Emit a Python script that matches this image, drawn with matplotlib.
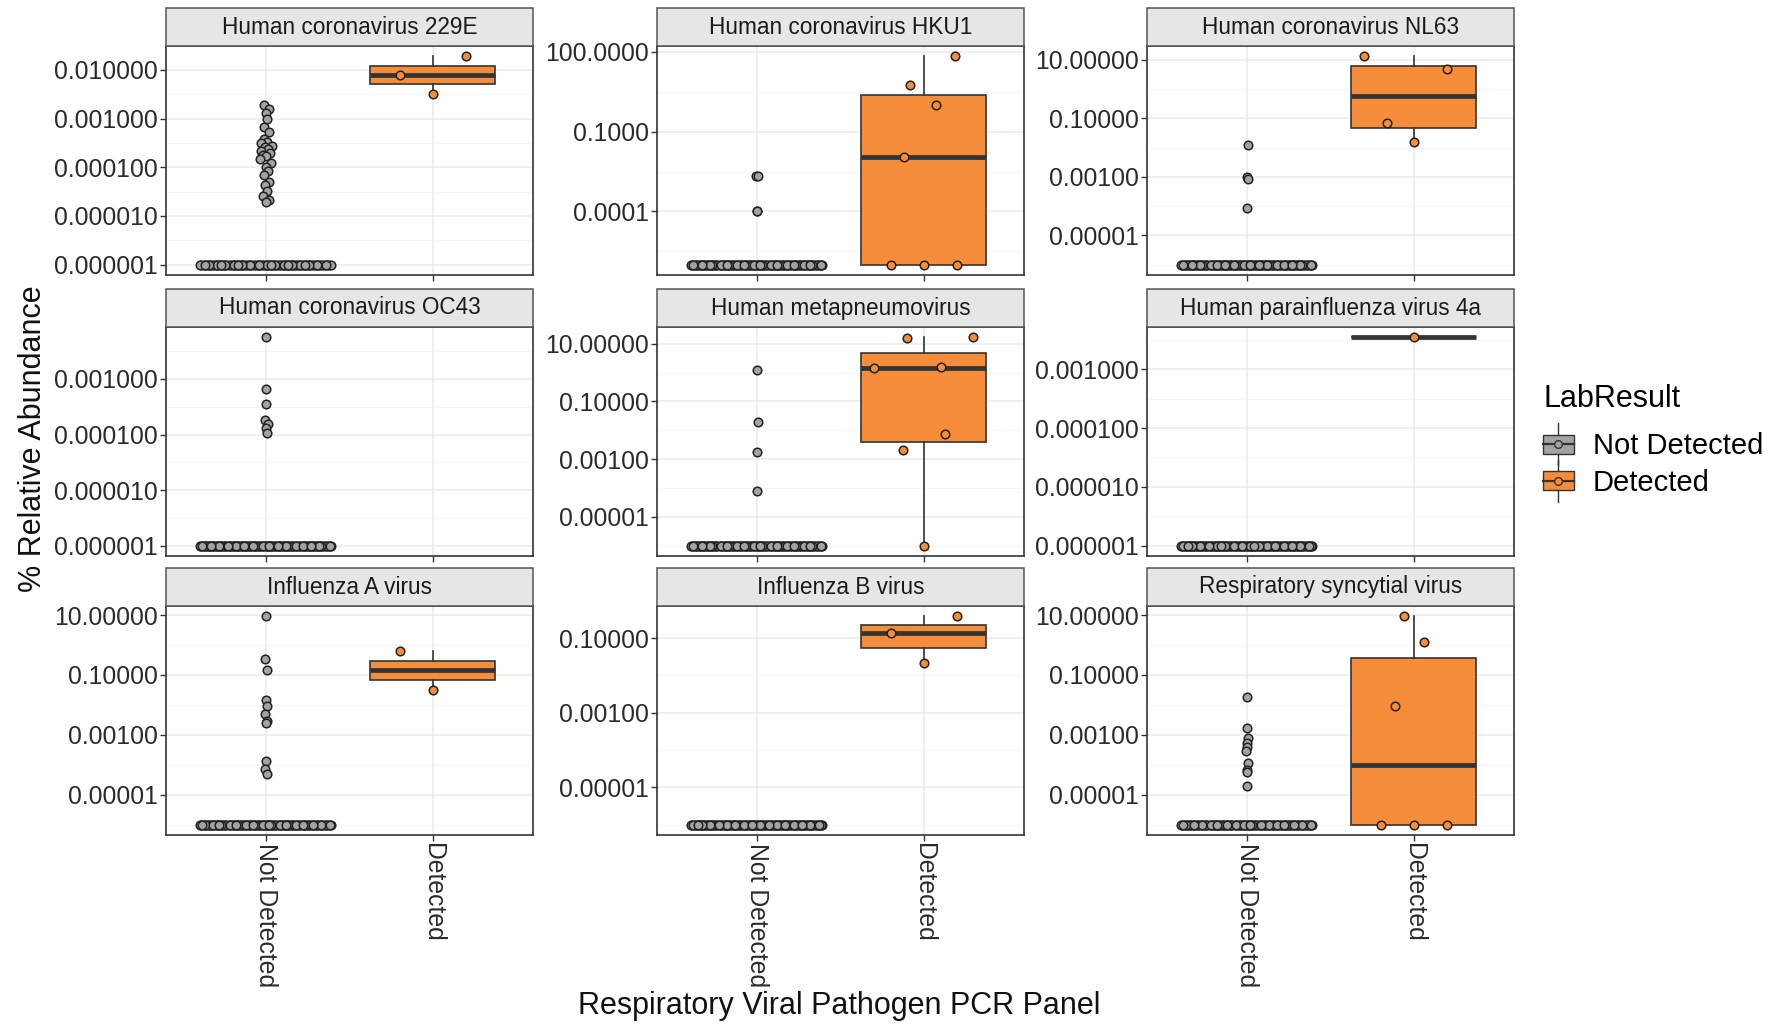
import numpy as np
import matplotlib
matplotlib.use("Agg")
import matplotlib.pyplot as plt
from matplotlib.patches import Rectangle, Patch
from matplotlib.lines import Line2D
from matplotlib.legend_handler import HandlerBase

plt.rcParams['font.family'] = ['Liberation Sans', 'DejaVu Sans']

# ---------------- data ----------------
pathogens = ["Human coronavirus 229E", "Human coronavirus HKU1", "Human coronavirus NL63",
             "Human coronavirus OC43", "Human metapneumovirus", "Human parainfluenza virus 4a",
             "Influenza A virus", "Influenza B virus", "Respiratory syncytial virus"]
groups = ["Not Detected", "Detected"]
floor_value = 1e-6   # value used for zero abundance

# number of Not Detected samples sitting at the floor value, per pathogen
nd_floor_count = [85, 104, 107, 108, 104, 114, 102, 112, 99]

# non-zero % relative abundance of Not Detected samples, per pathogen
nd_229E = [0.0019, 0.0016, 0.0013, 0.0010, 0.00068, 0.00052, 0.00039, 0.00033, 0.00031,
           0.00028, 0.00026, 0.00024, 0.00022, 0.00020, 0.00018, 0.00017, 0.00015, 0.00012,
           0.00010, 0.000085, 0.000068, 0.00005, 0.000043, 0.000033, 0.000026, 0.000021, 0.000019]
nd_HKU1 = [0.0022, 0.0021, 0.000105, 0.0001]
nd_NL63 = [0.012, 0.00095, 0.00085, 0.000085]
nd_OC43 = [0.0056, 0.00065, 0.00035, 0.00018, 0.000155, 0.00013, 0.000105]
nd_MPV = [1.2, 0.019, 0.0018, 0.00008]
nd_PIV4a = []
nd_FluA = [9.0, 0.35, 0.15, 0.015, 0.0093, 0.0049, 0.0029, 0.0024, 0.000135, 0.000072, 0.000049]
nd_FluB = []
nd_RSV = [0.019, 0.0017, 0.00078, 0.00055, 0.00038, 0.00029, 0.000118, 0.000067, 0.000055, 0.00002]

# % relative abundance of Detected samples, per pathogen
det_229E = [0.0032, 0.008, 0.019]
det_HKU1 = [1e-6, 1e-6, 1e-6, 0.011, 1.05, 5.8, 68.0]
det_NL63 = [0.015, 0.071, 4.9, 13.0]
det_OC43 = []
det_MPV = [1e-6, 0.002, 0.0076, 1.45, 1.5, 15.5, 16.5]
det_PIV4a = [0.0035]
det_FluA = [0.032, 0.63]
det_FluB = [0.022, 0.135, 0.38]
det_RSV = [1e-6, 1e-6, 1e-6, 0.0093, 1.3, 9.0]

nd_nonzero = [nd_229E, nd_HKU1, nd_NL63, nd_OC43, nd_MPV, nd_PIV4a, nd_FluA, nd_FluB, nd_RSV]
detected = [det_229E, det_HKU1, det_NL63, det_OC43, det_MPV, det_PIV4a, det_FluA, det_FluB, det_RSV]

# y tick labels per panel (ggplot formatting)
yticks_labels = [
    ["0.000001", "0.000010", "0.000100", "0.001000", "0.010000"],
    ["0.0001", "0.1000", "100.0000"],
    ["0.00001", "0.00100", "0.10000", "10.00000"],
    ["0.000001", "0.000010", "0.000100", "0.001000"],
    ["0.00001", "0.00100", "0.10000", "10.00000"],
    ["0.000001", "0.000010", "0.000100", "0.001000"],
    ["0.00001", "0.00100", "0.10000", "10.00000"],
    ["0.00001", "0.00100", "0.10000"],
    ["0.00001", "0.00100", "0.10000", "10.00000"],
]

colors = {"Not Detected": "#A3A3A3", "Detected": "#F68D3A"}
dark = "#333333"

# ---------------- helpers ----------------
def vdc(n, base=2):
    out = []
    for i in range(1, n + 1):
        v, denom, k = 0.0, 1.0, i
        while k > 0:
            denom *= base
            k, r = divmod(k, base)
            v += r / denom
        out.append(v)
    return np.array(out)


def quasirandom_offsets(ylog, width=0.4):
    ylog = np.asarray(ylog, float)
    n = len(ylog)
    if n < 2:
        return np.zeros(n)
    order = np.argsort(ylog, kind="stable")
    ranks = np.empty(n, int)
    ranks[order] = np.arange(n)
    v = vdc(n)[ranks]
    sd = np.std(ylog, ddof=1)
    q75, q25 = np.percentile(ylog, [75, 25])
    lo = min(sd, (q75 - q25) / 1.34)
    if lo == 0:
        lo = sd or abs(ylog[0]) or 1.0
    bw = 0.9 * lo * n ** -0.2 * 0.5
    d = np.exp(-0.5 * ((ylog[:, None] - ylog[None, :]) / bw) ** 2).sum(1)
    d = d / d.max()
    return (v - 0.5) * 2 * width * d


def box_stats(vals):
    lv = np.log10(np.asarray(vals, float))
    q1, med, q3 = np.percentile(lv, [25, 50, 75])
    iqr = q3 - q1
    lo_w = lv[lv >= q1 - 1.5 * iqr].min()
    hi_w = lv[lv <= q3 + 1.5 * iqr].max()
    return dict(med=10 ** med, q1=10 ** q1, q3=10 ** q3, whislo=10 ** lo_w, whishi=10 ** hi_w)


class BoxKeyHandler(HandlerBase):
    def create_artists(self, legend, orig_handle, xdescent, ydescent, width, height, fontsize, trans):
        fc = orig_handle.get_facecolor()
        x0, y0 = -xdescent, -ydescent
        cx = x0 + width / 2
        wl = Line2D([cx, cx], [y0 - 0.2 * height, y0 + 1.2 * height], color=dark, lw=1.0, transform=trans)
        rect = Rectangle((x0, y0 + 0.18 * height), width, 0.64 * height, facecolor=fc,
                         edgecolor=dark, lw=1.0, transform=trans)
        med = Line2D([x0, x0 + width], [y0 + 0.5 * height] * 2, color=dark, lw=1.6, transform=trans)
        pt = Line2D([cx], [y0 + 0.5 * height], marker="o", ms=5.5, mfc=fc, mec=dark, mew=1.0,
                    ls="none", transform=trans)
        return [wl, rect, med, pt]


# ---------------- figure ----------------
W, H = 1776, 1024
fig = plt.figure(figsize=(W / 100, H / 100), dpi=100)

col_left = [166, 657, 1147]
panel_w = 367
row_top = [46, 327, 606]
panel_h = 229
strip_h = 38

for i, name in enumerate(pathogens):
    r, c = divmod(i, 3)
    ax = fig.add_axes([col_left[c] / W, 1 - (row_top[r] + panel_h) / H, panel_w / W, panel_h / H])
    ax.set_yscale("log")
    nd_vals = [floor_value] * nd_floor_count[i] + list(nd_nonzero[i])
    det_vals = list(detected[i])
    group_vals = [nd_vals, det_vals]

    all_log = np.log10(np.array(nd_vals + det_vals))
    lo, hi = all_log.min(), all_log.max()
    pad = 0.05 * (hi - lo)
    ax.set_ylim(10 ** (lo - pad), 10 ** (hi + pad))
    ax.set_xlim(0.4, 2.6)

    # grid
    ticks = [float(t) for t in yticks_labels[i]]
    tl = np.log10(ticks)
    minors = []
    for k in range(len(tl) - 1):
        minors.append(10 ** ((tl[k] + tl[k + 1]) / 2))
    if len(tl) > 1:
        step = tl[1] - tl[0]
        minors.append(10 ** (tl[0] - step / 2))
        minors.append(10 ** (tl[-1] + step / 2))
    for m in minors:
        ax.axhline(m, color="#F3F3F3", lw=0.6, zorder=0)
    for t in ticks:
        ax.axhline(t, color="#EBEBEB", lw=1.1, zorder=0)
    for xp in (1, 2):
        ax.axvline(xp, color="#EBEBEB", lw=1.1, zorder=0)

    # boxes
    for gi, (g, vals) in enumerate(zip(groups, group_vals)):
        if len(vals) == 0:
            continue
        st = box_stats(vals)
        ax.bxp([st], positions=[gi + 1], widths=0.75, patch_artist=True, showfliers=False,
               showcaps=False, manage_ticks=False,
               boxprops=dict(facecolor=colors[g], edgecolor=dark, lw=1.2),
               medianprops=dict(color=dark, lw=3.4, solid_capstyle="butt"),
               whiskerprops=dict(color=dark, lw=1.2), zorder=2)

    # points (quasirandom)
    for gi, (g, vals) in enumerate(zip(groups, group_vals)):
        if len(vals) == 0:
            continue
        lv = np.log10(np.array(vals))
        xs = gi + 1 + quasirandom_offsets(lv)
        ax.scatter(xs, vals, s=38, facecolor=colors[g], edgecolor="#222222", linewidths=1.1,
                   zorder=3, clip_on=False)

    ax.set_yticks(ticks)
    ax.set_yticklabels(yticks_labels[i])
    ax.yaxis.set_minor_locator(matplotlib.ticker.NullLocator())
    ax.set_xticks([1, 2])
    if r == 2:
        ax.set_xticklabels(groups, rotation=270, ha="center", va="top")
    else:
        ax.set_xticklabels([])
    ax.tick_params(axis="both", length=4, width=1.0, color=dark, labelsize=17.8,
                   labelcolor="#2b2b2b", pad=2)
    for s in ax.spines.values():
        s.set_color(dark)
        s.set_linewidth(1.2)

    # strip
    sh = strip_h / panel_h
    ax.add_patch(Rectangle((0, 1), 1, sh, transform=ax.transAxes, facecolor="#E6E6E6",
                           edgecolor="#555555", lw=1.1, clip_on=False, zorder=5))
    ax.text(0.5, 1 + sh / 2, name, transform=ax.transAxes, ha="center", va="center",
            fontsize=16.3, color="#1A1A1A", zorder=6)

fig.text(33 / W, 1 - 439 / H, "% Relative Abundance", rotation=90, ha="center", va="center",
         fontsize=22, color="#111111")
fig.text(839 / W, 1 - 1006 / H, "Respiratory Viral Pathogen PCR Panel", ha="center", va="center",
         fontsize=22, color="#111111")

handles = [Patch(facecolor=colors[g]) for g in groups]
leg = fig.legend(handles, groups, title="LabResult", loc="upper left",
                 bbox_to_anchor=(1543 / W, 1 - 384 / H), frameon=False,
                 handler_map={Patch: BoxKeyHandler()}, fontsize=21, title_fontsize=22,
                 alignment="left", handlelength=1.05, handleheight=1.2, labelspacing=0.2,
                 handletextpad=0.65, borderpad=0, borderaxespad=0)
leg._legend_box.sep = 11

fig.savefig("out.png", dpi=100, facecolor="white")
